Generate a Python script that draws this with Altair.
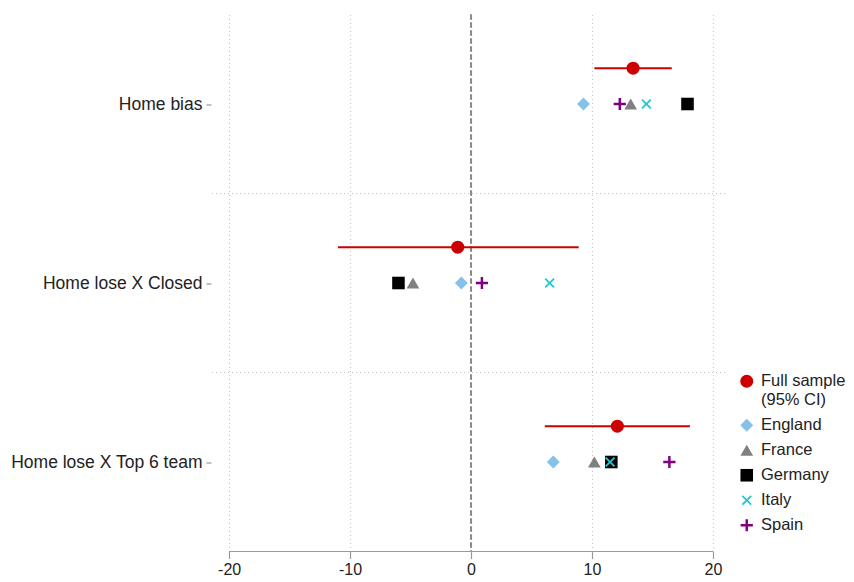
import json
import altair as alt
import pandas as pd

# ---- data ----
cats = ["Home bias", "Home lose X Closed", "Home lose X Top 6 team"]
full_est = [13.4, -1.1, 12.1]
full_lo = [10.2, -11.0, 6.1]
full_hi = [16.6, 8.9, 18.1]
england = [9.3, -0.8, 6.8]
france = [13.2, -4.8, 10.2]
germany = [17.9, -6.0, 11.6]
italy = [14.5, 6.5, 11.5]
spain = [12.3, 0.9, 16.4]
series = ["Full sample", "England", "France", "Germany", "Italy", "Spain"]
x_ticks = [-20, -10, 0, 10, 20]

# ---- styles ----
colors = ["#CC0000", "#85C1E9", "#808080", "#000000", "#22C8D0", "#800080"]
PLUS = "M-1,-0.2L-0.2,-0.2L-0.2,-1L0.2,-1L0.2,-0.2L1,-0.2L1,0.2L0.2,0.2L0.2,1L-0.2,1L-0.2,0.2L-1,0.2Z"
XSHAPE = ("M-0.601,-0.813L0,-0.212L0.601,-0.813L0.813,-0.601L0.212,0L0.813,0.601"
          "L0.601,0.813L0,0.212L-0.601,0.813L-0.813,0.601L-0.212,0L-0.813,-0.601Z")
shapes = ["circle", "diamond", "triangle-up", "square", XSHAPE, PLUS]
sizes = [170, 150, 115, 125, 120, 160]
FULL_OFFSET = 0.2  # full-sample row drawn above the category centre

full_df = pd.DataFrame({
    "cat": cats,
    "series": "Full sample",
    "est": full_est,
    "lo": full_lo,
    "hi": full_hi,
    "pos": [i - FULL_OFFSET for i in range(len(cats))],
})

country_vals = {"England": england, "France": france, "Germany": germany,
                "Italy": italy, "Spain": spain}
rows = []
for s, vals in country_vals.items():
    for i, (c, v) in enumerate(zip(cats, vals)):
        rows.append({"cat": c, "series": s, "value": v, "pos": i})
country_df = pd.DataFrame(rows)

sep_df = pd.DataFrame({"pos": [i + 0.5 for i in range(len(cats) - 1)]})

FONT = "Liberation Sans"
xscale = alt.Scale(domain=[-21.5, 21.0], nice=False, zero=False)
yscale = alt.Scale(domain=[-0.5, len(cats) - 0.5], reverse=True, nice=False, zero=False)
label_expr = json.dumps(cats) + "[datum.value]"

color_enc = alt.Color("series:N", scale=alt.Scale(domain=series, range=colors),
                      title=None,
                      legend=alt.Legend(
                          orient="none", legendX=527.5, legendY=358.5,
                          labelFont=FONT, labelFontSize=16.5, labelColor="#222",
                          symbolSize=85, symbolStrokeWidth=0, labelOffset=6,
                          rowPadding=8, padding=0, labelLimit=0,
                          labelExpr="datum.label == 'Full sample' ? ['Full sample', '(95% CI)'] : datum.label",
                      ))
shape_enc = alt.Shape("series:N", scale=alt.Scale(domain=series, range=shapes), title=None)

base_x_axis = alt.Axis(values=x_ticks, grid=True, gridDash=[1, 3], gridColor="#c4c4c4",
                       gridWidth=1, domain=False, ticks=True, tickSize=7, tickColor="#9a9a9a",
                       tickWidth=1.2, labelFont=FONT, labelFontSize=16, labelColor="#222",
                       labelPadding=3, title=None, labelExpr="'' + datum.value")
base_y_axis = alt.Axis(values=list(range(len(cats))), labelExpr=label_expr, grid=False,
                       domain=False, ticks=True, tickSize=5, tickColor="#9a9a9a",
                       tickWidth=1.2, labelFont=FONT, labelFontSize=17.5, labelColor="#222",
                       labelPadding=4, labelLimit=0, title=None)

seps = alt.Chart(sep_df).mark_rule(color="#c4c4c4", strokeDash=[1, 3], strokeWidth=1).encode(
    y=alt.Y("pos:Q", scale=yscale, axis=base_y_axis)
)

zero_line = alt.Chart(sep_df).mark_rule(color="#8a8a8a", strokeDash=[5, 3], strokeWidth=2).encode(
    x=alt.datum(0, scale=xscale, axis=base_x_axis)
)

axis_line = alt.Chart(sep_df).mark_rule(color="#9a9a9a", strokeWidth=1.2).encode(
    x=alt.datum(x_ticks[0]), x2=alt.datum(x_ticks[-1]), y=alt.datum(len(cats) - 0.5)
)

ci = alt.Chart(full_df).mark_rule(color="#CC0000", strokeWidth=2).encode(
    x=alt.X("lo:Q"), x2="hi:Q", y=alt.Y("pos:Q")
)

full_pts = alt.Chart(full_df).mark_point(filled=True, opacity=1, size=170, strokeWidth=0).encode(
    x=alt.X("est:Q"), y=alt.Y("pos:Q"), color=color_enc, shape=shape_enc
)

country_pts = alt.Chart(country_df).mark_point(filled=True, opacity=1, strokeWidth=0).encode(
    x=alt.X("value:Q"), y=alt.Y("pos:Q"), color=color_enc, shape=shape_enc,
    size=alt.Size("series:N", scale=alt.Scale(domain=series, range=sizes), legend=None),
)

chart = alt.layer(seps, zero_line, axis_line, ci, full_pts, country_pts).properties(
    width=514, height=537,
    autosize=alt.AutoSizeParams(type="none"),
    padding={"left": 203, "top": 6.5, "right": 121, "bottom": 34},
    background="white",
).configure_view(stroke=None)

chart.save("out.html", embed_options={"renderer": "svg", "actions": False})
